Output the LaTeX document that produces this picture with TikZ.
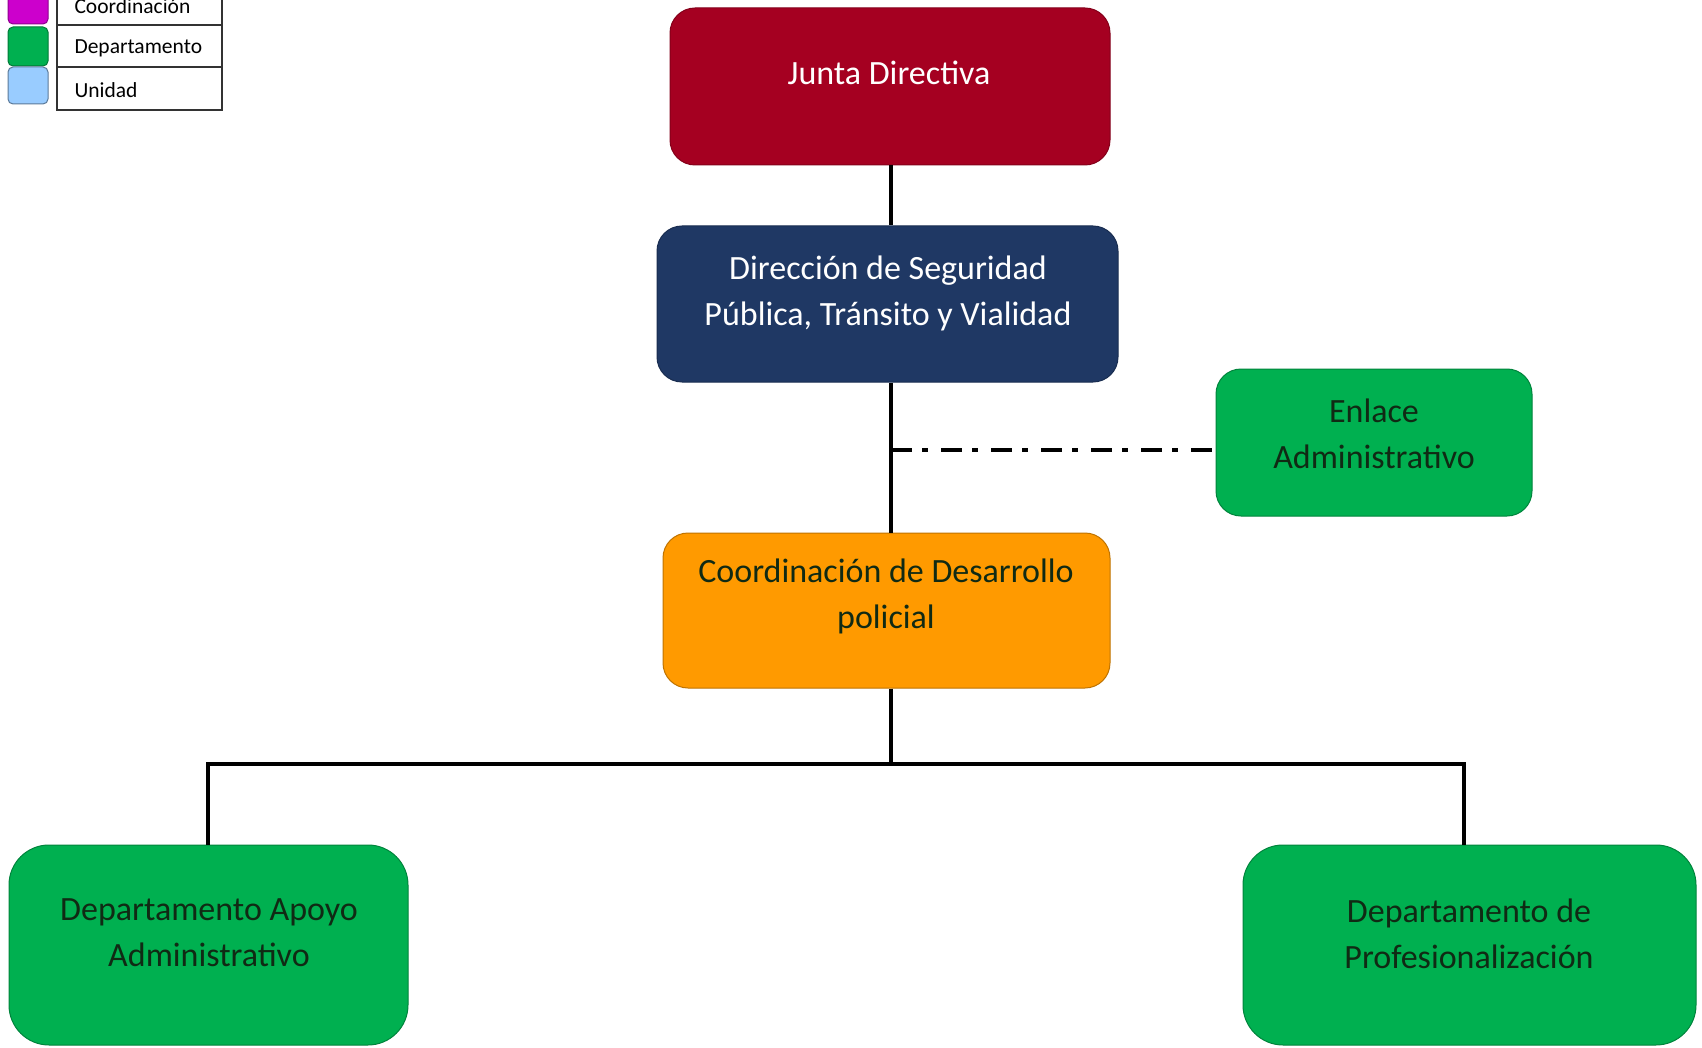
\documentclass[tikz,border=0pt]{standalone}
\usepackage{fontspec}
\setmainfont{Carlito}
\definecolor{jred}{HTML}{A50021}
\definecolor{dnavy}{HTML}{1F3864}
\definecolor{dgreen}{HTML}{00B050}
\definecolor{corange}{HTML}{FF9A00}
\definecolor{lmag}{HTML}{CC00CC}
\definecolor{lblue}{HTML}{99CCFF}
\definecolor{dtext}{HTML}{102A14}
\begin{document}
\begin{tikzpicture}[x=1pt,y=-1pt,
  box/.style={inner sep=0pt, rounded corners=#1, line width=1pt},
  btext/.style={align=center, font=\fontsize{34}{46}\selectfont},
  conn/.style={line width=3.5pt, line cap=butt},
  dashdotline/.style={line width=4pt, dash pattern=on 21pt off 10pt on 6pt off 13pt},
  legsq/.style={rounded corners=5pt, line width=1pt},
  legcell/.style={draw=black!80, line width=1.5pt},
  legtext/.style={anchor=west, font=\fontsize{21.5}{24}\selectfont}]
\useasboundingbox (0,0) rectangle (1702,1048);
\fill[white] (0,0) rectangle (1702,1048);

% boxes
\node[box=25pt, fill=jred, draw=jred!80!black, minimum width=440pt, minimum height=157pt] (junta) at (890,86.5) {};
\node[box=25pt, fill=dnavy, draw=dnavy!80!black, minimum width=461pt, minimum height=156pt] (dir) at (887.5,304) {};
\node[box=25pt, fill=dgreen, draw=dgreen!75!black, minimum width=316pt, minimum height=147pt] (enlace) at (1374,442.5) {};
\node[box=25pt, fill=corange, draw=corange!75!black, minimum width=447pt, minimum height=155pt] (coord) at (886.5,610.5) {};
\node[box=40pt, fill=dgreen, draw=dgreen!75!black, minimum width=399pt, minimum height=200pt] (apoyo) at (208.5,945) {};
\node[box=40pt, fill=dgreen, draw=dgreen!75!black, minimum width=453pt, minimum height=200pt] (prof) at (1469.5,945) {};

% texts
\node[btext, text=white] (tjunta) at (889,73) {Junta Directiva};
\node[btext, text=white] (tdir) at (888,293) {Dirección de Seguridad\\Pública, Tránsito y Vialidad};
\node[btext, text=dtext] (tenlace) at (1374,434) {Enlace\\Administrativo};
\node[btext, text=dtext] (tcoord) at (886,596) {Coordinación de Desarrollo\\policial};
\node[btext, text=dtext] (tapoyo) at (209,933) {Departamento Apoyo\\Administrativo};
\node[btext, text=dtext] (tprof) at (1469,934) {Departamento de\\Profesionalización};

% connectors
\coordinate (spine) at (891,0);
\coordinate (dashy) at (0,450);
\coordinate (busL) at (208,764);
\coordinate (busM) at (891,764);
\coordinate (busR) at (1464,764);
\draw[conn] (junta.south -| spine) -- (dir.north -| spine);
\draw[conn] (dir.south -| spine) -- (coord.north -| spine);
\draw[dashdotline] (spine |- dashy) -- (enlace.west |- dashy);
\draw[conn] (coord.south -| spine) -- (busM);
\draw[conn] (apoyo.north -| busL) -- (busL) -- (busR) -- (prof.north -| busR);

% legend
\draw[legsq, fill=lmag, draw=lmag!70!black] (8,-8) rectangle (48,24) ;
\draw[legsq, fill=dgreen, draw=dgreen!70!black] (8,27) rectangle (48,66);
\draw[legsq, fill=lblue, draw=lblue!60!black] (8,67) rectangle (48,104);
\node[legcell, minimum width=165pt, minimum height=34pt, inner sep=0pt] (lc1) at (139.5,8) {};
\node[legcell, minimum width=165pt, minimum height=42pt, inner sep=0pt] (lc2) at (139.5,46) {};
\node[legcell, minimum width=165pt, minimum height=43pt, inner sep=0pt] (lc3) at (139.5,88.5) {};
\node[legtext] (lt1) at (71,6) {Coordinación};
\node[legtext] (lt2) at (71,48) {Departamento};
\node[legtext] (lt3) at (71,90) {Unidad};
\end{tikzpicture}
\end{document}
